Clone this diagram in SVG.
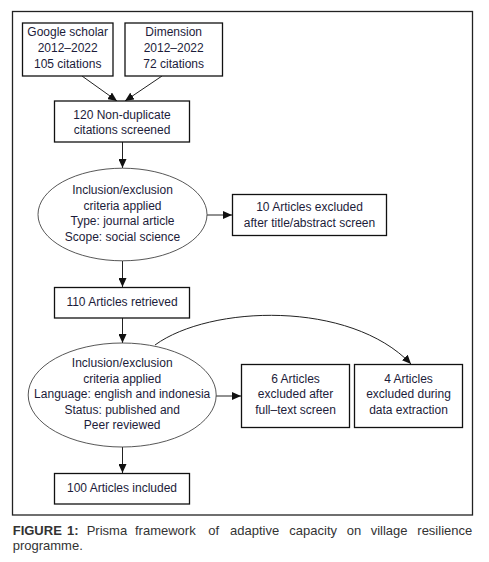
<svg xmlns="http://www.w3.org/2000/svg" width="489" height="562" viewBox="0 0 489 562">
<defs>
<style>
.box{fill:#fff;stroke:#111;stroke-width:1.3}
.ell{fill:#fff;stroke:#444;stroke-width:0.9}
.t{font-family:"Liberation Sans",Arial,sans-serif;font-size:12px;fill:#1c1c3a;text-anchor:middle}
.c{fill:none;stroke:#222;stroke-width:1}
.cap{font-family:"Liberation Sans",Arial,sans-serif;font-size:13px;fill:#333}
</style>
<marker id="ah" markerWidth="9" markerHeight="8" refX="9" refY="4" orient="auto" markerUnits="userSpaceOnUse">
<path d="M0,0 L9,4 L0,8 Z" fill="#111"/>
</marker>
</defs>
<rect x="0" y="0" width="489" height="562" fill="#fff"/>
<rect x="12.5" y="11.5" width="460" height="503.5" fill="none" stroke="#222" stroke-width="1.3"/>

<g id="connectors">
<line class="c" x1="82" y1="76" x2="117" y2="101" marker-end="url(#ah)"/>
<line class="c" x1="162" y1="76" x2="125" y2="101" marker-end="url(#ah)"/>
<line class="c" x1="122.5" y1="142" x2="122.5" y2="168" marker-end="url(#ah)"/>
<line class="c" x1="207" y1="215" x2="232" y2="215" marker-end="url(#ah)"/>
<line class="c" x1="122.5" y1="261" x2="122.5" y2="287" marker-end="url(#ah)"/>
<line class="c" x1="122.5" y1="318" x2="122.5" y2="343" marker-end="url(#ah)"/>
<path class="c" d="M155,345 C210,305 350,300 411,364" marker-end="url(#ah)"/>
<line class="c" x1="216" y1="396" x2="241" y2="396" marker-end="url(#ah)"/>
<line class="c" x1="122.5" y1="447" x2="122.5" y2="473" marker-end="url(#ah)"/>
</g>

<g id="google">
<rect class="box" x="22.5" y="23" width="90.5" height="53"/>
<text class="t" x="67.7" y="35.5">Google scholar</text>
<text class="t" x="67.7" y="51.5">2012–2022</text>
<text class="t" x="67.7" y="67.5">105 citations</text>
</g>
<g id="dimension">
<rect class="box" x="125" y="23" width="97.5" height="53"/>
<text class="t" x="173.7" y="35.5">Dimension</text>
<text class="t" x="173.7" y="51.5">2012–2022</text>
<text class="t" x="173.7" y="67.5">72 citations</text>
</g>
<g id="nondup">
<rect class="box" x="54.5" y="101" width="135" height="41"/>
<text class="t" x="122" y="118.5">120 Non-duplicate</text>
<text class="t" x="122" y="134">citations screened</text>
</g>
<g id="criteria1">
<ellipse class="ell" cx="122.5" cy="214.5" rx="84.5" ry="46.3"/>
<text class="t" x="122.5" y="194">Inclusion/exclusion</text>
<text class="t" x="122.5" y="209.5">criteria applied</text>
<text class="t" x="122.5" y="225.3">Type: journal article</text>
<text class="t" x="122.5" y="241">Scope: social science</text>
</g>
<g id="excl10">
<rect class="box" x="232.5" y="194.5" width="154" height="41"/>
<text class="t" x="309.5" y="211">10 Articles excluded</text>
<text class="t" x="309.5" y="226.7">after title/abstract screen</text>
</g>
<g id="retrieved">
<rect class="box" x="54.5" y="287.5" width="135" height="30.5"/>
<text class="t" x="122" y="305.7">110 Articles retrieved</text>
</g>
<g id="criteria2">
<ellipse class="ell" cx="122.2" cy="395" rx="94" ry="52"/>
<text class="t" x="122.2" y="367.3">Inclusion/exclusion</text>
<text class="t" x="122.2" y="382.8">criteria applied</text>
<text class="t" x="122.2" y="398.3">Language: english and indonesia</text>
<text class="t" x="122.2" y="414">Status: published and</text>
<text class="t" x="122.2" y="429.4">Peer reviewed</text>
</g>
<g id="excl6">
<rect class="box" x="241.5" y="364.5" width="108" height="63"/>
<text class="t" x="295.5" y="382.7">6 Articles</text>
<text class="t" x="295.5" y="398.3">excluded after</text>
<text class="t" x="295.5" y="414.3">full–text screen</text>
</g>
<g id="excl4">
<rect class="box" x="354.5" y="364.5" width="108" height="63"/>
<text class="t" x="408.5" y="382.7">4 Articles</text>
<text class="t" x="408.5" y="398.3">excluded during</text>
<text class="t" x="408.5" y="414.3">data extraction</text>
</g>
<g id="included">
<rect class="box" x="54.5" y="473.5" width="135" height="30.5"/>
<text class="t" x="122" y="491.7">100 Articles included</text>
</g>

<text class="cap" y="535"><tspan x="12.7" font-weight="bold">FIGURE</tspan><tspan x="67" font-weight="bold">1:</tspan><tspan x="86.7">Prisma</tspan><tspan x="135">framework</tspan><tspan x="208.3">of</tspan><tspan x="230">adaptive</tspan><tspan x="289.3">capacity</tspan><tspan x="346.7">on</tspan><tspan x="370.7">village</tspan><tspan x="417.3">resilience</tspan></text>
<text class="cap" x="12.7" y="549.5">programme.</text>
</svg>
